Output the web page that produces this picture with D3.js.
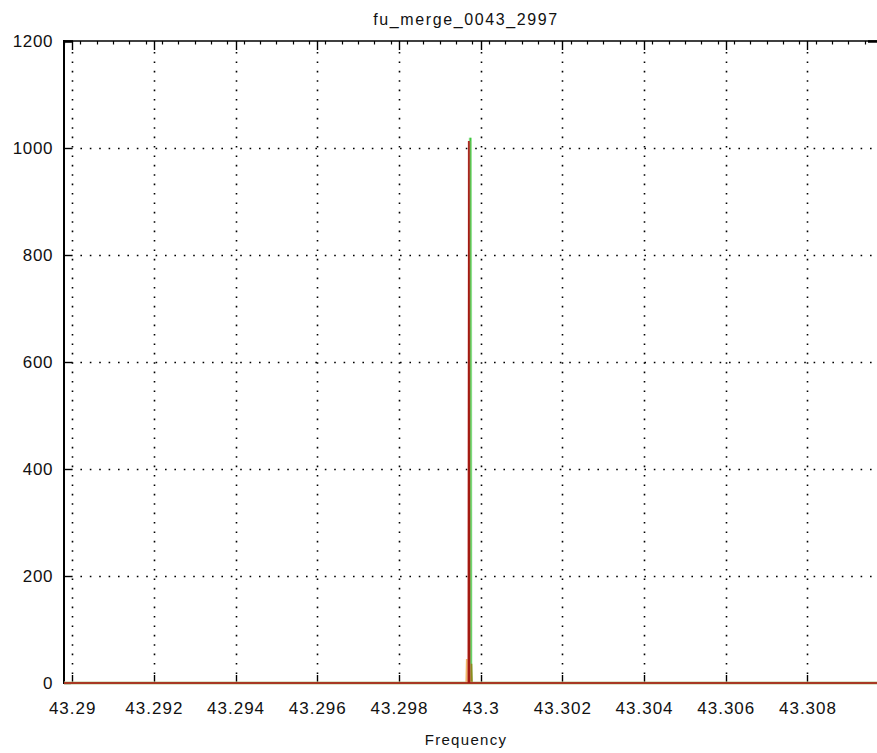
<!DOCTYPE html>
<html>
<head>
<meta charset="utf-8">
<script src="https://cdn.jsdelivr.net/npm/d3@7"></script>
<style>
  html, body { margin: 0; padding: 0; background: #fff; }
  svg { display: block; }
  text { font-family: "Liberation Sans", Arial, sans-serif; fill: #111; }
</style>
</head>
<body>
<svg id="chart" width="877" height="753"></svg>
<script>
// Spectrum around 43.2997 — each trace is a set of (frequency, amplitude) samples.
const title = "fu_merge_0043_2997";
const xLabel = "Frequency";

const xTicks = [43.29, 43.292, 43.294, 43.296, 43.298, 43.3, 43.302, 43.304, 43.306, 43.308];
const xTickLabels = ["43.29", "43.292", "43.294", "43.296", "43.298", "43.3", "43.302", "43.304", "43.306", "43.308"];
const yTicks = [0, 200, 400, 600, 800, 1000, 1200];

const greenFreq = [43.2898, 43.299735, 43.299748, 43.29976, 43.3098];
const greenAmp  = [0, 0, 1019, 0, 0];

const orangeFreq = [43.2898, 43.29965, 43.299663, 43.299676, 43.3098];
const orangeAmp  = [0, 0, 45, 0, 0];

const oliveFreq = [43.2898, 43.29976, 43.299773, 43.299786, 43.3098];
const oliveAmp  = [0, 0, 36, 0, 0];

const redFreq = [43.2898, 43.2997, 43.299712, 43.299724, 43.3098];
const redAmp  = [0, 0, 1013, 0, 0];

const svg = d3.select("#chart");
const mLeft = 64, mTop = 41, mBottom = 683, mRight = 877;

const x = d3.scaleLinear().domain([43.2898, 43.3098]).range([mLeft, mLeft + 817]);
const y = d3.scaleLinear().domain([0, 1200]).range([mBottom, mTop]);

// clip region for the plotting area
svg.append("defs").append("clipPath").attr("id", "plotClip")
  .append("rect").attr("x", mLeft).attr("y", mTop - 1).attr("width", mRight - mLeft).attr("height", mBottom - mTop + 4);

// dotted grid
const grid = svg.append("g").attr("stroke", "#000").attr("stroke-width", 1.6)
  .attr("stroke-dasharray", "1.6,7.8").attr("fill", "none");
grid.selectAll("line.v").data(xTicks).join("line")
  .attr("x1", d => Math.round(x(d)) + 0.5).attr("x2", d => Math.round(x(d)) + 0.5)
  .attr("y1", mBottom - 9).attr("y2", mTop + 9);
grid.selectAll("line.h").data(yTicks.filter(d => d > 0 && d < 1200)).join("line")
  .attr("y1", d => Math.round(y(d)) + 0.5).attr("y2", d => Math.round(y(d)) + 0.5)
  .attr("x1", mLeft + 7).attr("x2", mRight);

// axes frame
const frame = svg.append("g").attr("stroke", "#000").attr("fill", "none");
frame.append("line").attr("x1", mLeft).attr("x2", mRight).attr("y1", mTop).attr("y2", mTop).attr("stroke-width", 1.6);
frame.append("line").attr("x1", mLeft).attr("x2", mRight).attr("y1", mBottom).attr("y2", mBottom).attr("stroke-width", 1.6);
frame.append("line").attr("x1", mLeft).attr("x2", mLeft).attr("y1", mTop - 1).attr("y2", mBottom + 1).attr("stroke-width", 2);
// heavier corner segments on the top edge
frame.append("line").attr("x1", mLeft).attr("x2", mLeft + 9).attr("y1", mTop + 0.5).attr("y2", mTop + 0.5).attr("stroke-width", 2.5);
frame.append("line").attr("x1", 868).attr("x2", mRight).attr("y1", mTop + 0.5).attr("y2", mTop + 0.5).attr("stroke-width", 2.5);

// major ticks: bottom (up), top (down), left (right)
frame.selectAll("line.bt").data(xTicks).join("line")
  .attr("x1", d => Math.round(x(d)) + 0.5).attr("x2", d => Math.round(x(d)) + 0.5)
  .attr("y1", mBottom).attr("y2", mBottom - 8).attr("stroke-width", 1.4);
frame.selectAll("line.tt").data(xTicks).join("line")
  .attr("x1", d => Math.round(x(d)) + 0.5).attr("x2", d => Math.round(x(d)) + 0.5)
  .attr("y1", mTop).attr("y2", mTop + 9).attr("stroke-width", 1.4);
frame.selectAll("line.lt").data(yTicks).join("line")
  .attr("y1", d => Math.round(y(d)) + 0.5).attr("y2", d => Math.round(y(d)) + 0.5)
  .attr("x1", mLeft).attr("x2", mLeft + 7).attr("stroke-width", 1.4);

// minor ticks on the top edge
const minor = d3.range(0, 50).map(i => 43.2898 + i * 0.0004).filter(v => x(v) < mRight);
frame.selectAll("line.mt").data(minor).join("line")
  .attr("x1", d => Math.round(x(d)) + 0.5).attr("x2", d => Math.round(x(d)) + 0.5)
  .attr("y1", mTop).attr("y2", mTop + 3.5).attr("stroke-width", 1.2);

// traces (red drawn last so the baseline shows red)
const plot = svg.append("g").attr("clip-path", "url(#plotClip)");
const line = d3.line().x(d => x(d[0])).y(d => y(d[1]));
function trace(freq, amp, color, width, opacity) {
  plot.append("path")
    .datum(freq.map((f, i) => [f, amp[i]]))
    .attr("d", line).attr("fill", "none")
    .attr("stroke", color).attr("stroke-width", width)
    .attr("stroke-opacity", opacity || 1)
    .attr("stroke-linejoin", "miter");
}
trace(greenFreq, greenAmp, "#9be89b", 3.2, 0.8);
trace(greenFreq, greenAmp, "#3fc43f", 1.6);
trace(orangeFreq, orangeAmp, "#f0b868", 2);
trace(oliveFreq, oliveAmp, "#8c8a1e", 1.8);
trace(redFreq, redAmp, "#f2a0a0", 3.0, 0.45);
trace(redFreq, redAmp, "#a31a12", 1.6);

// tick labels
svg.append("g").selectAll("text").data(xTicks).join("text")
  .attr("x", d => x(d) + 0.5).attr("y", 714)
  .attr("text-anchor", "middle").attr("font-size", 17).attr("letter-spacing", 1)
  .text((d, i) => xTickLabels[i]);
svg.append("g").selectAll("text").data(yTicks).join("text")
  .attr("x", 53).attr("y", d => y(d) + 6)
  .attr("text-anchor", "end").attr("font-size", 17).attr("letter-spacing", 0.6)
  .text(d => d);

// title and axis label
svg.append("text").attr("x", 466).attr("y", 25).attr("text-anchor", "middle")
  .attr("font-size", 16).attr("letter-spacing", 1.6).text(title);
svg.append("text").attr("x", 466).attr("y", 745).attr("text-anchor", "middle")
  .attr("font-size", 15).attr("letter-spacing", 1.3).text(xLabel);
</script>
</body>
</html>
